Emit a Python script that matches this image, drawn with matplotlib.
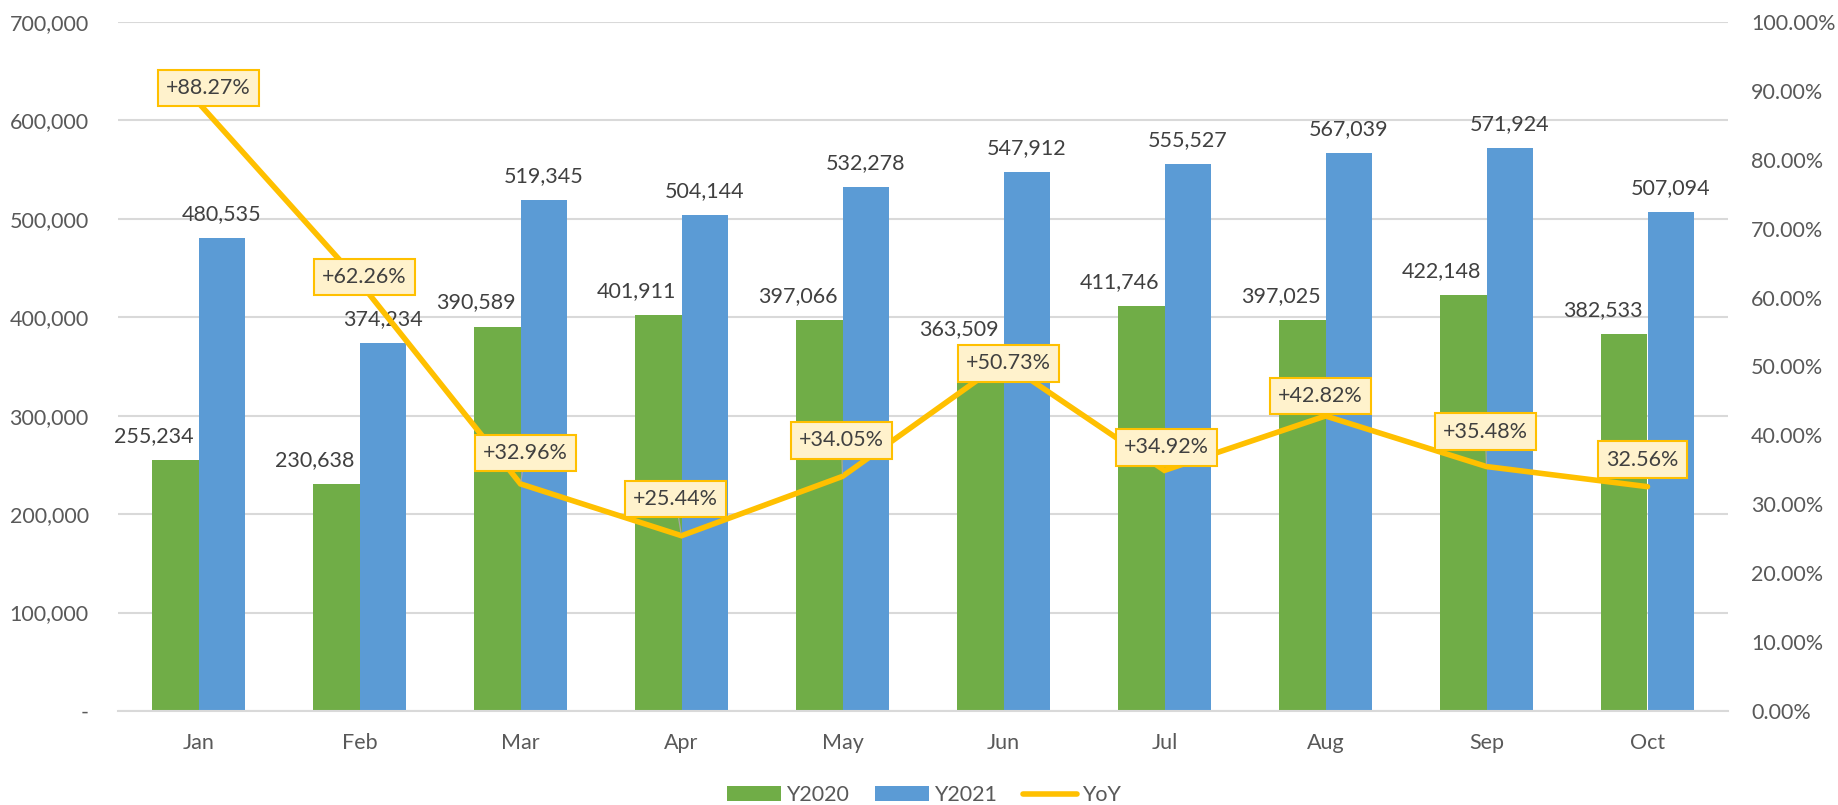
import matplotlib
matplotlib.use("Agg")
import matplotlib.pyplot as plt
from matplotlib.ticker import FuncFormatter, MultipleLocator
from matplotlib.lines import Line2D
from matplotlib.patches import Patch
import numpy as np

plt.rcParams['font.family'] = ['Lato', 'DejaVu Sans']

months = ["Jan", "Feb", "Mar", "Apr", "May", "Jun", "Jul", "Aug", "Sep", "Oct"]
y2020 = [255234, 230638, 390589, 401911, 397066, 363509, 411746, 397025, 422148, 382533]
y2021 = [480535, 374234, 519345, 504144, 532278, 547912, 555527, 567039, 571924, 507094]
yoy = [88.27, 62.26, 32.96, 25.44, 34.05, 50.73, 34.92, 42.82, 35.48, 32.56]
yoy_signed = [True, True, True, True, True, True, True, True, True, False]

# label offsets (pixels) for the YoY callouts, and whether a leader line is drawn
yoy_offsets = [(10, 15), (5, 5), (5, 31), (-6, 37), (-1, 36), (5, -2),
               (2, 23), (-5, 20), (-1, 35), (-5, 27)]
yoy_leader = [False, False, True, True, True, False, False, False, True, False]

GREEN = "#70AD47"
BLUE = "#5B9BD5"
GOLD = "#FFC000"
LABEL = "#404040"
TICK = "#595959"
GRID = "#D9D9D9"
FS = 15.5

fig = plt.figure(figsize=(18.38, 8.05), dpi=100)
ax = fig.add_axes([118 / 1838, 94 / 805, 1610 / 1838, 689 / 805])
x = np.arange(len(months))
w = 0.286

ax.bar(x - w / 2, y2020, w, color=GREEN, zorder=2)
ax.bar(x + w / 2, y2021, w, color=BLUE, zorder=2)

ax.set_xlim(-0.5, len(months) - 0.5)
ax.set_ylim(0, 700000)
ax.yaxis.set_major_locator(MultipleLocator(100000))
ax.yaxis.set_major_formatter(FuncFormatter(lambda v, p: "-" if v == 0 else f"{int(v):,}"))
ax.set_xticks(x)
ax.set_xticklabels(months)
ax.grid(axis="y", color=GRID, linewidth=1.5, zorder=0)
ax.set_axisbelow(True)
for s in ["top", "right", "left"]:
    ax.spines[s].set_visible(False)
ax.spines["bottom"].set_color(GRID)
ax.spines["bottom"].set_linewidth(1.5)
ax.tick_params(axis="both", length=0, labelsize=FS, labelcolor=TICK)
ax.tick_params(axis="y", pad=21)
ax.tick_params(axis="x", pad=16)

for xi, v in zip(x, y2020):
    ax.annotate(f"{v:,}", (xi - w / 2, v), xytext=(-22, 18), textcoords="offset pixels",
                ha="center", va="baseline", fontsize=FS, color=LABEL)
for xi, v in zip(x, y2021):
    ax.annotate(f"{v:,}", (xi + w / 2, v), xytext=(0, 18), textcoords="offset pixels",
                ha="center", va="baseline", fontsize=FS, color=LABEL)

ax2 = ax.twinx()
ax2.set_ylim(0, 1.0)
ax2.yaxis.set_major_locator(MultipleLocator(0.1))
ax2.yaxis.set_major_formatter(FuncFormatter(lambda v, p: f"{v * 100:.2f}%"))
for s in ax2.spines.values():
    s.set_visible(False)
ax2.tick_params(axis="y", length=0, labelsize=FS, labelcolor=TICK, pad=16.5)

yoy_frac = [v / 100 for v in yoy]
ax2.plot(x, yoy_frac, color=GOLD, linewidth=4, solid_capstyle="round",
         solid_joinstyle="miter", zorder=3)

for xi, v, signed, off, lead in zip(x, yoy, yoy_signed, yoy_offsets, yoy_leader):
    txt = f"+{v:.2f}%" if signed else f"{v:.2f}%"
    kw = {}
    if lead:
        kw["arrowprops"] = dict(arrowstyle="-", color="#A6A6A6", lw=0.9,
                                shrinkA=0, shrinkB=2)
    ax2.annotate(txt, (xi, v / 100), xytext=off, textcoords="offset pixels",
                 ha="center", va="center", fontsize=FS, color=LABEL, zorder=5,
                 bbox=dict(boxstyle="square,pad=0.38", facecolor="#FFF2CC",
                           edgecolor=GOLD, linewidth=1.5), **kw)

handles = [Patch(facecolor=GREEN, label="Y2020"),
           Patch(facecolor=BLUE, label="Y2021"),
           Line2D([0], [0], color=GOLD, linewidth=4, solid_capstyle="round", label="YoY")]
leg = fig.legend(handles=handles, loc="center", bbox_to_anchor=(924 / 1838, 1 - 795 / 805),
                 ncol=3, frameon=False, fontsize=FS, handlelength=2.5, handleheight=0.65,
                 handletextpad=0.25, columnspacing=1.2, borderaxespad=0, borderpad=0)
for t in leg.get_texts():
    t.set_color(TICK)

fig.savefig("out.png", dpi=100, facecolor="white")
